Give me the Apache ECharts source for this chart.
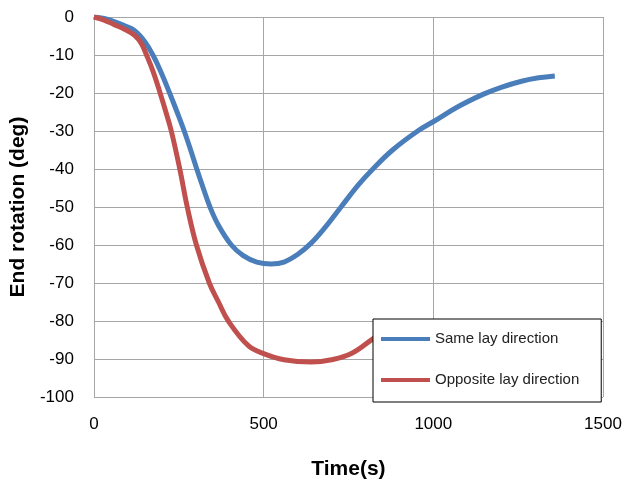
<!DOCTYPE html>
<html>
<head>
<meta charset="utf-8">
<script src="https://cdn.jsdelivr.net/npm/echarts@6/dist/echarts.min.js"></script>
<style>
html,body{margin:0;padding:0;background:#fff;}
#chart{width:626px;height:485px;}
</style>
</head>
<body>
<div id="chart"></div>
<script>
var sameTime = [0,30,60,90,120,150,175,200,223,245,266,285,303,322,342,368,405,440,480,522,560,600,640,680,728,781,822,880,954,1001,1075,1148,1200,1260,1310,1358];
var sameRot  = [0,-0.4,-1.2,-2.3,-3.6,-6.5,-10.2,-15,-20,-25,-30,-35,-40,-45,-50,-55,-60,-62.8,-64.5,-65,-64.5,-62.5,-59.5,-55.5,-50,-44,-40,-35,-30,-27.5,-23.5,-20.3,-18.5,-16.9,-16,-15.5];
var oppTime  = [0,30,60,90,120,140,155,175,195,212,228,253,275,302,340,367,396,455,500,560,640,700,760,825,860];
var oppRot   = [0,-0.8,-2,-3.2,-4.8,-7,-10,-14.5,-20,-25,-30,-40,-50,-60,-70,-75,-80,-86.5,-88.6,-90.2,-90.8,-90.2,-88.5,-84.5,-82.5];
var seriesNames = ['Same lay direction','Opposite lay direction'];
var xTicks = {min:0,max:1500,interval:500};
var yTicks = {min:-100,max:0,interval:10};

function pairs(t,v){ return t.map(function(x,i){ return [x,v[i]]; }); }

var chart = echarts.init(document.getElementById('chart'), null, {renderer:'canvas'});
var gridCol = '#a6a6a6';
chart.setOption({
  animation:false,
  backgroundColor:'#fff',
  textStyle:{fontFamily:'Liberation Sans'},
  grid:{left:92,right:23,top:17,bottom:81,containLabel:false},
  xAxis:{
    type:'value', min:xTicks.min, max:xTicks.max, interval:xTicks.interval,
    name:'Time(s)', nameLocation:'middle', nameGap:62,
    nameTextStyle:{fontSize:21,fontWeight:'bold',color:'#000',fontFamily:'Liberation Sans'},
    axisLine:{show:true,lineStyle:{color:gridCol,width:1}},
    axisTick:{show:false},
    axisLabel:{fontSize:17,color:'#000',margin:19,formatter:function(v){return String(v);}},
    splitLine:{show:true,lineStyle:{color:gridCol,width:1}}
  },
  yAxis:{
    type:'value', min:yTicks.min, max:yTicks.max, interval:yTicks.interval,
    name:'End rotation (deg)', nameLocation:'middle', nameGap:53,
    nameTextStyle:{fontSize:21,fontWeight:'bold',color:'#000',fontFamily:'Liberation Sans'},
    axisLine:{show:true,lineStyle:{color:gridCol,width:1}},
    axisTick:{show:false},
    axisLabel:{fontSize:17,color:'#000',margin:20,formatter:function(v){return String(v);}},
    splitLine:{show:true,lineStyle:{color:gridCol,width:1}}
  },
  legend:{
    orient:'vertical', left:373, top:319,
    padding:[10,22,12,8], itemGap:21,
    backgroundColor:'#fff', borderColor:'#000', borderWidth:1,
    icon:'rect', itemWidth:49, itemHeight:4,
    textStyle:{fontSize:15,color:'#222',lineHeight:20,fontFamily:'Liberation Sans'},
    data:seriesNames
  },
  series:[
    {name:seriesNames[0], type:'line', data:pairs(sameTime,sameRot), smooth:0.4, showSymbol:false,
     lineStyle:{color:'#4a7ebb',width:5}, itemStyle:{color:'#4a7ebb'}},
    {name:seriesNames[1], type:'line', data:pairs(oppTime,oppRot), smooth:0.4, showSymbol:false,
     lineStyle:{color:'#c0504d',width:5}, itemStyle:{color:'#c0504d'}}
  ]
});
</script>
</body>
</html>
